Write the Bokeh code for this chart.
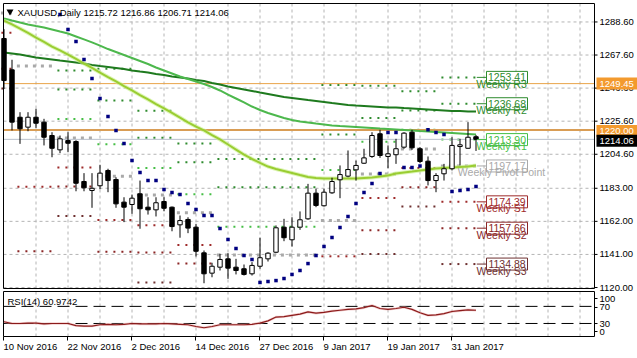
from bokeh.plotting import figure
from bokeh.models import ColumnDataSource, Range1d
from bokeh.embed import file_html
from bokeh.resources import INLINE
from bokeh.core.properties import value

FONT = "Liberation Sans"

# ---------------- data ----------------
date_ticks = [0, 8, 16, 24, 32, 40, 48, 56]
date_labels = ["10 Nov 2016", "22 Nov 2016", "2 Dec 2016", "14 Dec 2016",
               "27 Dec 2016", "9 Jan 2017", "19 Jan 2017", "31 Jan 2017"]
price_ticks = [1120.0, 1141.0, 1162.0, 1183.0, 1204.6, 1225.6, 1246.6, 1267.6, 1288.6]

opens = [1278.1, 1258.2, 1228.1, 1221.8, 1228.1, 1225.0, 1216.5, 1207.4, 1213.3, 1212.7,
         1187.3, 1181.6, 1184.6, 1194.3, 1188.6, 1174.2, 1172.7, 1179.5, 1171.0, 1169.3,
         1174.6, 1171.0, 1159.8, 1163.2, 1158.3, 1142.0, 1129.1, 1132.9, 1138.2, 1132.9,
         1131.9, 1128.7, 1133.5, 1138.2, 1142.4, 1158.3, 1150.3, 1158.3, 1163.6, 1179.9,
         1171.9, 1180.1, 1188.4, 1190.7, 1194.7, 1198.9, 1203.2, 1217.6, 1203.2, 1204.3,
         1209.1, 1218.6, 1208.1, 1200.2, 1187.9, 1192.2, 1195.4, 1209.5, 1208.4, 1215.72]
highs = [1284.0, 1264.6, 1231.3, 1231.3, 1233.5, 1227.1, 1218.6, 1216.5, 1218.6, 1213.5,
         1192.6, 1192.6, 1197.9, 1195.4, 1190.0, 1177.3, 1179.0, 1187.9, 1177.3, 1177.3,
         1177.3, 1171.4, 1165.7, 1164.6, 1160.4, 1143.5, 1135.7, 1141.4, 1141.8, 1138.2,
         1134.6, 1136.1, 1151.6, 1142.4, 1159.4, 1163.6, 1164.6, 1168.3, 1185.8, 1182.7,
         1182.7, 1189.7, 1197.5, 1207.0, 1200.6, 1208.1, 1218.6, 1220.1, 1210.2, 1214.4,
         1218.6, 1220.1, 1209.1, 1203.2, 1192.6, 1198.5, 1215.4, 1214.4, 1225.0, 1216.86]
lows = [1246.0, 1219.7, 1211.2, 1219.2, 1221.1, 1210.2, 1202.7, 1205.3, 1205.9, 1181.1,
        1181.1, 1170.6, 1182.4, 1180.5, 1170.6, 1161.5, 1166.8, 1157.3, 1166.3, 1165.1,
        1168.4, 1155.7, 1151.6, 1154.5, 1139.7, 1122.7, 1126.5, 1130.8, 1125.5, 1128.3,
        1127.6, 1127.6, 1131.9, 1136.5, 1141.8, 1149.4, 1146.0, 1156.6, 1163.0, 1171.0,
        1171.4, 1179.5, 1176.7, 1190.0, 1187.9, 1198.5, 1202.3, 1202.3, 1195.7, 1198.5,
        1208.1, 1207.4, 1198.9, 1184.8, 1180.5, 1187.9, 1194.3, 1197.5, 1208.1, 1206.71]
closes = [1251.4, 1225.0, 1220.8, 1228.1, 1224.3, 1215.4, 1208.4, 1214.4, 1211.6, 1186.2,
          1183.3, 1183.0, 1192.6, 1187.9, 1173.1, 1171.0, 1176.7, 1170.0, 1169.3, 1173.8,
          1170.3, 1158.7, 1162.5, 1157.7, 1143.0, 1128.7, 1133.5, 1137.8, 1132.3, 1130.8,
          1128.3, 1134.0, 1138.9, 1141.8, 1157.9, 1151.6, 1158.3, 1163.0, 1179.9, 1172.1,
          1180.5, 1187.3, 1191.7, 1194.9, 1197.5, 1202.3, 1216.5, 1203.8, 1204.9, 1208.1,
          1218.0, 1208.7, 1200.0, 1187.9, 1191.1, 1195.4, 1210.2, 1210.6, 1215.4, 1214.06]

ma_slow = [1269.2, 1268.6, 1267.9, 1267.0, 1266.0, 1265.4, 1264.8, 1264.1, 1263.5, 1262.9,
           1262.2, 1261.3, 1260.6, 1260.0, 1259.4, 1258.7, 1257.8, 1257.1, 1256.5, 1255.6,
           1254.9, 1254.0, 1253.3, 1252.7, 1251.7, 1251.1, 1249.8, 1248.9, 1247.6, 1246.7,
           1245.7, 1244.8, 1243.8, 1242.9, 1241.9, 1240.9, 1240.3, 1239.7, 1239.0, 1238.4,
           1237.8, 1237.1, 1236.5, 1235.9, 1235.5, 1235.2, 1234.9, 1234.6, 1234.3, 1234.3,
           1233.9, 1233.6, 1233.3, 1233.0, 1232.7, 1232.4, 1232.1, 1232.1, 1231.7, 1231.7]
ma_mid = [1290.8, 1289.5, 1288.3, 1287.0, 1286.0, 1285.1, 1283.8, 1282.5, 1281.3, 1279.4,
          1277.5, 1275.6, 1273.6, 1271.4, 1269.5, 1267.6, 1265.7, 1263.8, 1261.9, 1259.7,
          1257.8, 1255.9, 1254.0, 1252.4, 1250.8, 1249.2, 1247.3, 1245.1, 1242.5, 1240.0,
          1237.5, 1234.9, 1232.7, 1230.8, 1229.2, 1227.6, 1226.3, 1225.4, 1224.8, 1224.1,
          1223.5, 1222.9, 1222.5, 1222.2, 1221.9, 1221.6, 1221.3, 1220.9, 1220.6, 1220.3,
          1220.0, 1219.7, 1219.3, 1219.0, 1218.7, 1218.4, 1218.1, 1217.8, 1217.5, 1217.1]
ma_fast = [1289.5, 1287.0, 1284.4, 1281.6, 1278.7, 1275.9, 1273.0, 1270.5, 1267.9, 1265.1,
           1262.2, 1259.4, 1256.5, 1253.6, 1250.8, 1247.9, 1245.1, 1242.2, 1239.4, 1236.5,
           1233.7, 1230.8, 1227.9, 1224.8, 1222.2, 1219.7, 1216.8, 1214.0, 1210.8, 1207.6,
           1204.4, 1201.6, 1199.1, 1196.8, 1195.2, 1194.0, 1192.7, 1191.4, 1190.2, 1189.5,
           1189.2, 1189.2, 1189.2, 1189.2, 1189.2, 1189.5, 1189.8, 1190.5, 1191.1, 1192.4,
           1193.0, 1193.6, 1194.3, 1194.9, 1195.5, 1195.9, 1196.2, 1196.5, 1196.8, 1197.5]

sar_bars = [7, 8, 9, 10, 11, 12, 13, 14, 15, 16, 17, 18, 19, 20, 21, 22, 23, 24, 25, 26,
            27, 28, 29, 30, 31, 32, 33, 34, 35, 36, 37, 38, 39, 40, 41, 42, 43, 44, 45, 46,
            47, 48, 49, 50, 51, 52, 53, 54, 55, 56, 57, 58, 59]
sar_vals = [1293.3, 1283.8, 1276.2, 1264.8, 1252.7, 1240.0, 1228.6, 1219.7, 1211.4, 1200.6,
            1193.0, 1187.9, 1187.9, 1182.2, 1180.3, 1179.0, 1173.3, 1169.5, 1165.7, 1165.7,
            1157.5, 1150.5, 1144.8, 1140.3, 1137.8, 1123.2, 1123.8, 1124.4, 1125.7, 1128.3,
            1130.8, 1135.2, 1140.3, 1146.0, 1151.7, 1158.1, 1165.1, 1173.3, 1180.3, 1186.0,
            1192.4, 1218.4, 1218.4, 1196.2, 1196.2, 1197.2, 1220.1, 1218.4, 1217.1, 1181.0,
            1181.6, 1182.2, 1184.1]

week_first = [0, 2, 7, 12, 17, 22, 27, 32, 36, 40, 45, 50, 55]
week_last = [1, 6, 11, 16, 21, 26, 31, 35, 39, 44, 49, 54, 59]
piv_r3 = [1352.5, 1419.4, 1257.8, 1258.9, 1232.3, 1211.4, 1201.6, 1201.6, 1201.6, 1248.5, 1248.1, 1244.6, 1253.41]
piv_r2 = [1329.7, 1378.4, 1245.7, 1238.7, 1215.1, 1199.6, 1183.6, 1183.6, 1183.6, 1217.2, 1227.6, 1232.4, 1236.68]
piv_r1 = [1317.1, 1301.7, 1227.0, 1210.9, 1195.9, 1179.2, 1158.6, 1158.6, 1158.6, 1194.6, 1212.5, 1220.2, 1213.90]
piv_pp = [1294.3, 1260.7, 1214.9, 1190.7, 1178.7, 1167.4, 1140.6, 1140.6, 1140.6, 1162.5, 1192.0, 1208.0, 1197.17]
piv_s1 = [1281.7, 1184.0, 1196.2, 1162.9, 1159.5, 1147.0, 1115.6, 1115.6, 1115.6, 1139.8, 1176.9, 1195.8, 1174.39]
piv_s2 = [1258.9, 1143.0, 1184.1, 1142.7, 1142.3, 1135.2, 1097.6, 1097.6, 1097.6, 1109.4, 1156.4, 1183.6, 1157.66]
piv_s3 = [1246.3, 1066.3, 1165.4, 1114.9, 1123.1, 1114.8, 1072.6, 1072.6, 1072.6, 1086.8, 1141.3, 1171.4, 1134.88]
piv_names = ["Weekly R3", "Weekly R2", "Weekly R1", "Weekly Pivot Point",
             "Weekly S1", "Weekly S2", "Weekly S3"]
piv_colors = ["#2E8B2E", "#2E8B2E", "#45BE45", "#A9A9A9", "#9E2A2A", "#8B2525", "#6E3030"]

rsi = [34, 30, 30, 31, 31, 29, 30, 30, 30, 25, 24, 24, 27, 28, 27, 28, 30, 29, 29, 29,
       30, 29, 28, 27, 23, 20, 23, 27, 27, 27, 27, 28, 31, 36, 45, 46, 49, 52, 57, 54,
       56, 59, 61, 63, 64, 67, 72, 65, 63, 65, 68, 63, 55, 49, 50, 53, 58, 60, 62, 60.97]
rsi_levels = [70, 30]
rsi_label_pos = [88.4, 67.4, 29.9, 11.2]
rsi_tick_labels = ["100", "70", "30", "0"]

price_lines = [1249.45, 1220.00, 1214.06]
title_text = "XAUUSD,Daily  1215.72 1216.86 1206.71 1214.06"
rsi_title = "RSI(14) 60.9742"

# ---------------- geometry helpers (pixel -> data) ----------------
PX_PER_BAR = 8.0
def bx(px):                      # screen x -> bar index
    return (px - 3.5) / PX_PER_BAR
def py(px):                      # screen y -> price
    return 1120.0 + (287.0 - px) / 1.575
def ry(px):                      # screen y -> RSI value
    return (335.8 - px) / 0.4275

L, R = bx(3), bx(594)
MAIN_T, MAIN_B = py(3), py(288)
RSI_T, RSI_B = ry(291), ry(336)

p = figure(width=637, height=358, x_range=Range1d(bx(0), bx(637)),
           y_range=Range1d(py(358), py(0)), output_backend="svg",
           toolbar_location=None, x_axis_location=None, y_axis_location=None,
           min_border=0, min_border_left=0, min_border_right=0,
           min_border_top=0, min_border_bottom=0)
p.extra_y_ranges = {"rsi": Range1d(ry(358), ry(0))}
p.grid.visible = False
p.outline_line_color = None
p.background_fill_color = "white"
p.border_fill_color = "white"

GRID = "#B4B4B4"
TXT = dict(text_font=value(FONT), text_font_size=value("9.5px"))

# grids
grid_x = list(range(4, 74, 4))
p.segment(x0=grid_x, y0=[MAIN_B] * len(grid_x), x1=grid_x, y1=[MAIN_T] * len(grid_x),
          line_color=GRID, line_dash="3 3", line_width=1)
p.segment(x0=grid_x, y0=[RSI_B] * len(grid_x), x1=grid_x, y1=[RSI_T] * len(grid_x),
          line_color=GRID, line_dash="3 3", line_width=1, y_range_name="rsi")
p.segment(x0=[L] * len(price_ticks), y0=price_ticks, x1=[R] * len(price_ticks),
          y1=price_ticks, line_color=GRID, line_dash="3 3", line_width=1)

# pivot dots
all_levels = [piv_r3, piv_r2, piv_r1, piv_pp, piv_s1, piv_s2, piv_s3]
for lvl_idx, levels in enumerate(all_levels):
    xs, ys = [], []
    for w in range(len(week_first)):
        for k in range(week_first[w], week_last[w] + 1):
            if MAIN_B < levels[w] < MAIN_T:
                xs.append(k - 0.2)
                ys.append(levels[w])
    size = 3 if lvl_idx == 3 else 2
    p.scatter(xs, ys, marker="square", size=size, fill_color=piv_colors[lvl_idx],
              line_color=None)

# horizontal price lines
p.segment(x0=[L], y0=[price_lines[0]], x1=[R], y1=[price_lines[0]],
          line_color="#E9A54A", line_width=1)
p.segment(x0=[L], y0=[price_lines[1]], x1=[R], y1=[price_lines[1]],
          line_color="#D99D55", line_width=2)
p.segment(x0=[L], y0=[price_lines[2]], x1=[R], y1=[price_lines[2]],
          line_color="#B9C0CC", line_width=1)

# moving averages
bars = list(range(len(closes)))
p.line(bars, ma_slow, line_color="#1E7A1E", line_width=2)
p.line(bars, ma_mid, line_color="#4DB84D", line_width=2)
p.line(bars, ma_fast, line_color="#C8F08A", line_width=4, line_alpha=0.6)
p.line(bars, ma_fast, line_color="#9ACD32", line_width=2)

# candles
src = ColumnDataSource(dict(
    x=bars, h=highs, l=lows,
    top=[max(a, b) for a, b in zip(opens, closes)],
    bot=[min(a, b) for a, b in zip(opens, closes)],
    fill=["white" if c >= o else "black" for o, c in zip(opens, closes)],
))
p.segment(x0="x", y0="l", x1="x", y1="h", source=src, line_color="black", line_width=1)
p.vbar(x="x", width=0.55, top="top", bottom="bot", source=src, fill_color="fill",
       line_color="black", line_width=1)

# parabolic SAR
p.scatter(sar_bars, sar_vals, marker="square", size=3.5, fill_color="#000080",
          line_color=None)

# panel frames
p.quad(left=[L], right=[R], top=[MAIN_T], bottom=[MAIN_B], fill_color=None,
       line_color="black", line_width=1)
p.quad(left=[L], right=[R], top=[RSI_T], bottom=[RSI_B], fill_color=None,
       line_color="black", line_width=1, y_range_name="rsi")

# right price axis
p.segment(x0=[R] * len(price_ticks), y0=price_ticks, x1=[bx(597)] * len(price_ticks),
          y1=price_ticks, line_color="black")
p.text(x=[bx(599)] * len(price_ticks), y=price_ticks,
       text=["%.2f" % t for t in price_ticks], text_align="left",
       text_baseline="middle", text_color="black", **TXT)

# price boxes on the axis (each box then its text, so later boxes cover earlier ones);
# the two close boxes are nudged apart by a pixel as the terminal does
box_colors = ["#F39A2E", "#F39A2E", "black"]
box_nudge_px = [0, 1, 1.5]
for val, bg, dy in zip(price_lines, box_colors, box_nudge_px):
    yc = val - dy / 1.575
    p.rect(x=[bx(616.5)], y=[yc], width=41, height=12, width_units="screen",
           height_units="screen", fill_color=bg, line_color=None)
    p.text(x=[bx(599)], y=[yc], text=["%.2f" % val], text_align="left",
           text_baseline="middle", text_color="white", **TXT)

# current-week pivot labels
last = len(week_first) - 1
for lvl_idx, levels in enumerate(all_levels):
    lv = levels[last]
    col = piv_colors[lvl_idx]
    p.segment(x0=[59.1], y0=[lv], x1=[bx(486)], y1=[lv], line_color=col, line_width=1)
    p.rect(x=[bx(506.5)], y=[lv], width=41, height=12, width_units="screen",
           height_units="screen", fill_color="white", line_color=col, line_width=1)
    p.text(x=[bx(506.5)], y=[lv], text=["%.2f" % lv], text_align="center",
           text_baseline="middle", text_color=col, text_font=value(FONT),
           text_font_size=value("10.5px"))
    p.text(x=[bx(501)], y=[lv - 0.3], text=[piv_names[lvl_idx]], text_align="center",
           text_baseline="top", text_color=col, text_font=value(FONT),
           text_font_size=value("10.5px"))

# title
p.scatter([bx(9.5)], [py(11)], marker="inverted_triangle", size=7, fill_color="black",
          line_color=None)
p.text(x=[bx(17)], y=[py(12)], text=[title_text], text_align="left",
       text_baseline="middle", text_color="black", **TXT)

# ---------------- RSI panel ----------------
n_lv = len(rsi_levels)
p.segment(x0=[L] * n_lv, y0=rsi_levels, x1=[R] * n_lv, y1=rsi_levels,
          line_color="black", line_dash="12 6", line_width=1, y_range_name="rsi")
p.line(bars, rsi, line_color="#E8A0A0", line_width=2.5, line_alpha=0.5,
       y_range_name="rsi")
p.line(bars, rsi, line_color="#8B1A1A", line_width=1.2, y_range_name="rsi")
p.text(x=[bx(7)], y=[ry(301)], text=[rsi_title], text_align="left",
       text_baseline="middle", text_color="black", y_range_name="rsi", **TXT)
p.segment(x0=[R] * 4, y0=rsi_label_pos, x1=[bx(597)] * 4, y1=rsi_label_pos,
          line_color="black", y_range_name="rsi")
p.text(x=[bx(599)] * 4, y=rsi_label_pos, text=rsi_tick_labels, text_align="left",
       text_baseline="middle", text_color="black", y_range_name="rsi", **TXT)

# date axis
nd = len(date_ticks)
p.segment(x0=[t - 0.0625 for t in date_ticks], y0=[py(336)] * nd,
          x1=[t - 0.0625 for t in date_ticks], y1=[py(340)] * nd, line_color="black")
p.text(x=[t - 0.0625 for t in date_ticks], y=[py(346)] * nd, text=date_labels,
       text_align="left", text_baseline="middle", text_color="black", **TXT)

open("out.html", "w").write(file_html(p, INLINE))
